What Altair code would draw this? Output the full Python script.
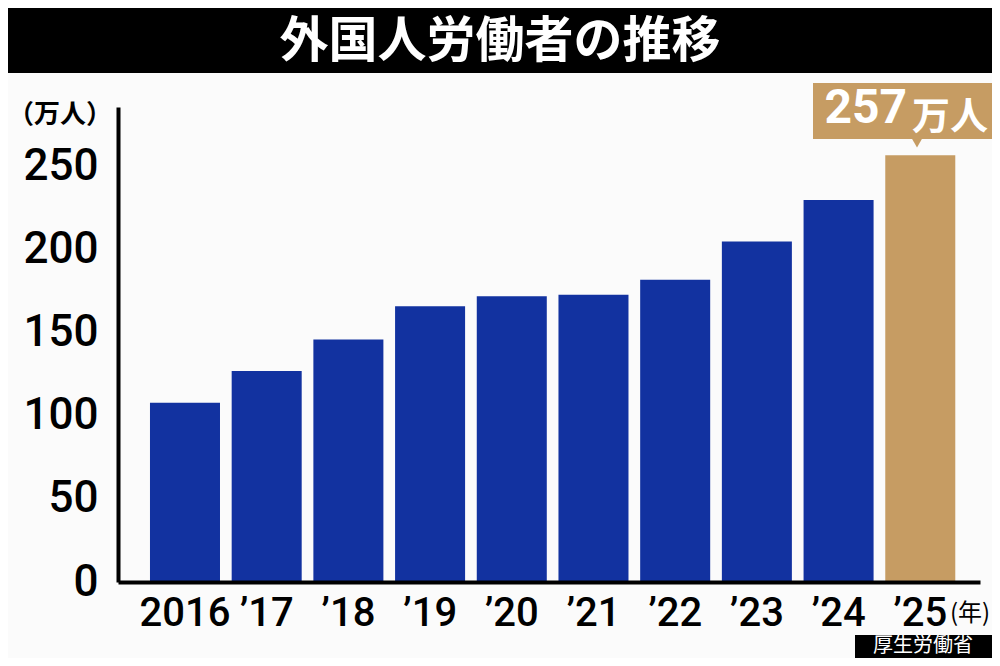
import altair as alt
import pandas as pd

# ---- data ----
years = ["2016", "’17", "’18", "’19", "’20", "’21", "’22", "’23", "’24", "’25"]
values = [108, 127, 146, 166, 172, 173, 182, 205, 230, 257]
kinds = ["past"] * 9 + ["latest"]
title_text = ["外国人労働者の推移"]
unit_text = ["（万人）"]
year_unit = ["(年)"]
source_text = ["厚生労働省"]
callout_num = ["257"]
callout_unit = ["万人"]

BLUE = "#1232a0"
GOLD = "#c69c63"
BG = "#fbfbfb"
NUM_FONT = "Roboto"
JP_FONT = "Noto Sans CJK JP"

df = pd.DataFrame({"year": years, "value": values, "kind": kinds})

W, H = 862, 475

bars = alt.Chart(df).mark_bar().encode(
    x=alt.X(
        "year:N",
        sort=years,
        scale=alt.Scale(paddingInner=0.143, paddingOuter=0.347, align=0.564),
        axis=alt.Axis(
            title=None, labelAngle=0, labelFontSize=40, labelFont=NUM_FONT,
            labelFontWeight=500, labelColor="black", ticks=False,
            labelPadding=11, domainColor="black", domainWidth=4, zindex=1,
        ),
    ),
    y=alt.Y(
        "value:Q",
        scale=alt.Scale(domain=[0, 286], nice=False, zero=True),
        axis=alt.Axis(
            values=[0, 50, 100, 150, 200, 250], title=None, grid=False,
            ticks=False, labelPadding=20, labelFontSize=44, labelFont=NUM_FONT,
            labelFontWeight=500, labelColor="black", domainColor="black",
            domainWidth=4, zindex=1,
        ),
    ),
    color=alt.Color(
        "kind:N",
        scale=alt.Scale(domain=["past", "latest"], range=[BLUE, GOLD]),
        legend=None,
    ),
)

# title bar
title_bg = alt.Chart(pd.DataFrame({"t": title_text})).mark_rect(color="black").encode(
    x=alt.value(-110), x2=alt.value(874), y=alt.value(-99), y2=alt.value(-34)
)
title = alt.Chart(pd.DataFrame({"t": title_text})).mark_text(
    font=JP_FONT, fontSize=49, fontWeight="bold", color="white",
    align="center", baseline="middle",
).encode(text="t:N", x=alt.value(382), y=alt.value(-65))

unit = alt.Chart(pd.DataFrame({"t": unit_text})).mark_text(
    font=JP_FONT, fontSize=26, fontWeight="bold", color="black",
    align="center", baseline="middle",
).encode(text="t:N", x=alt.value(-58), y=alt.value(8))

yunit = alt.Chart(pd.DataFrame({"t": year_unit})).mark_text(
    font=JP_FONT, fontSize=24, color="black", align="center", baseline="middle",
).encode(text="t:N", x=alt.value(852), y=alt.value(507))

# callout
call_bg = alt.Chart(pd.DataFrame({"t": callout_num})).mark_rect(color=GOLD).encode(
    x=alt.value(695), x2=alt.value(874), y=alt.value(-24), y2=alt.value(32)
)
call_ptr = alt.Chart(pd.DataFrame({"t": callout_num})).mark_point(
    shape="triangle-down", filled=True, size=160, color=GOLD, opacity=1
).encode(x=alt.value(799), y=alt.value(35))
call_num = alt.Chart(pd.DataFrame({"t": callout_num})).mark_text(
    font=NUM_FONT, fontSize=48, fontWeight="bold", color="white",
    align="right", baseline="alphabetic",
).encode(text="t:N", x=alt.value(789), y=alt.value(16))
call_unit = alt.Chart(pd.DataFrame({"t": callout_unit})).mark_text(
    font=JP_FONT, fontSize=38, fontWeight="bold", color="white",
    align="left", baseline="alphabetic",
).encode(text="t:N", x=alt.value(794), y=alt.value(22))

# source
src_bg = alt.Chart(pd.DataFrame({"t": source_text})).mark_rect(color="black").encode(
    x=alt.value(737), x2=alt.value(874), y=alt.value(528), y2=alt.value(551)
)
src = alt.Chart(pd.DataFrame({"t": source_text})).mark_text(
    font=JP_FONT, fontSize=20, color="white", align="center", baseline="middle",
).encode(text="t:N", x=alt.value(805), y=alt.value(539))

chart = alt.layer(
    title_bg, title, bars, unit, yunit, call_bg, call_ptr, call_num, call_unit, src_bg, src
).properties(
    width=W, height=H,
    autosize=alt.AutoSizeParams(type="none"),
    padding={"left": 110, "top": 99, "right": 12, "bottom": 76},
    background=BG,
).configure_view(stroke=None)

chart.save("out.html", embed_options={"renderer": "svg", "actions": False})
